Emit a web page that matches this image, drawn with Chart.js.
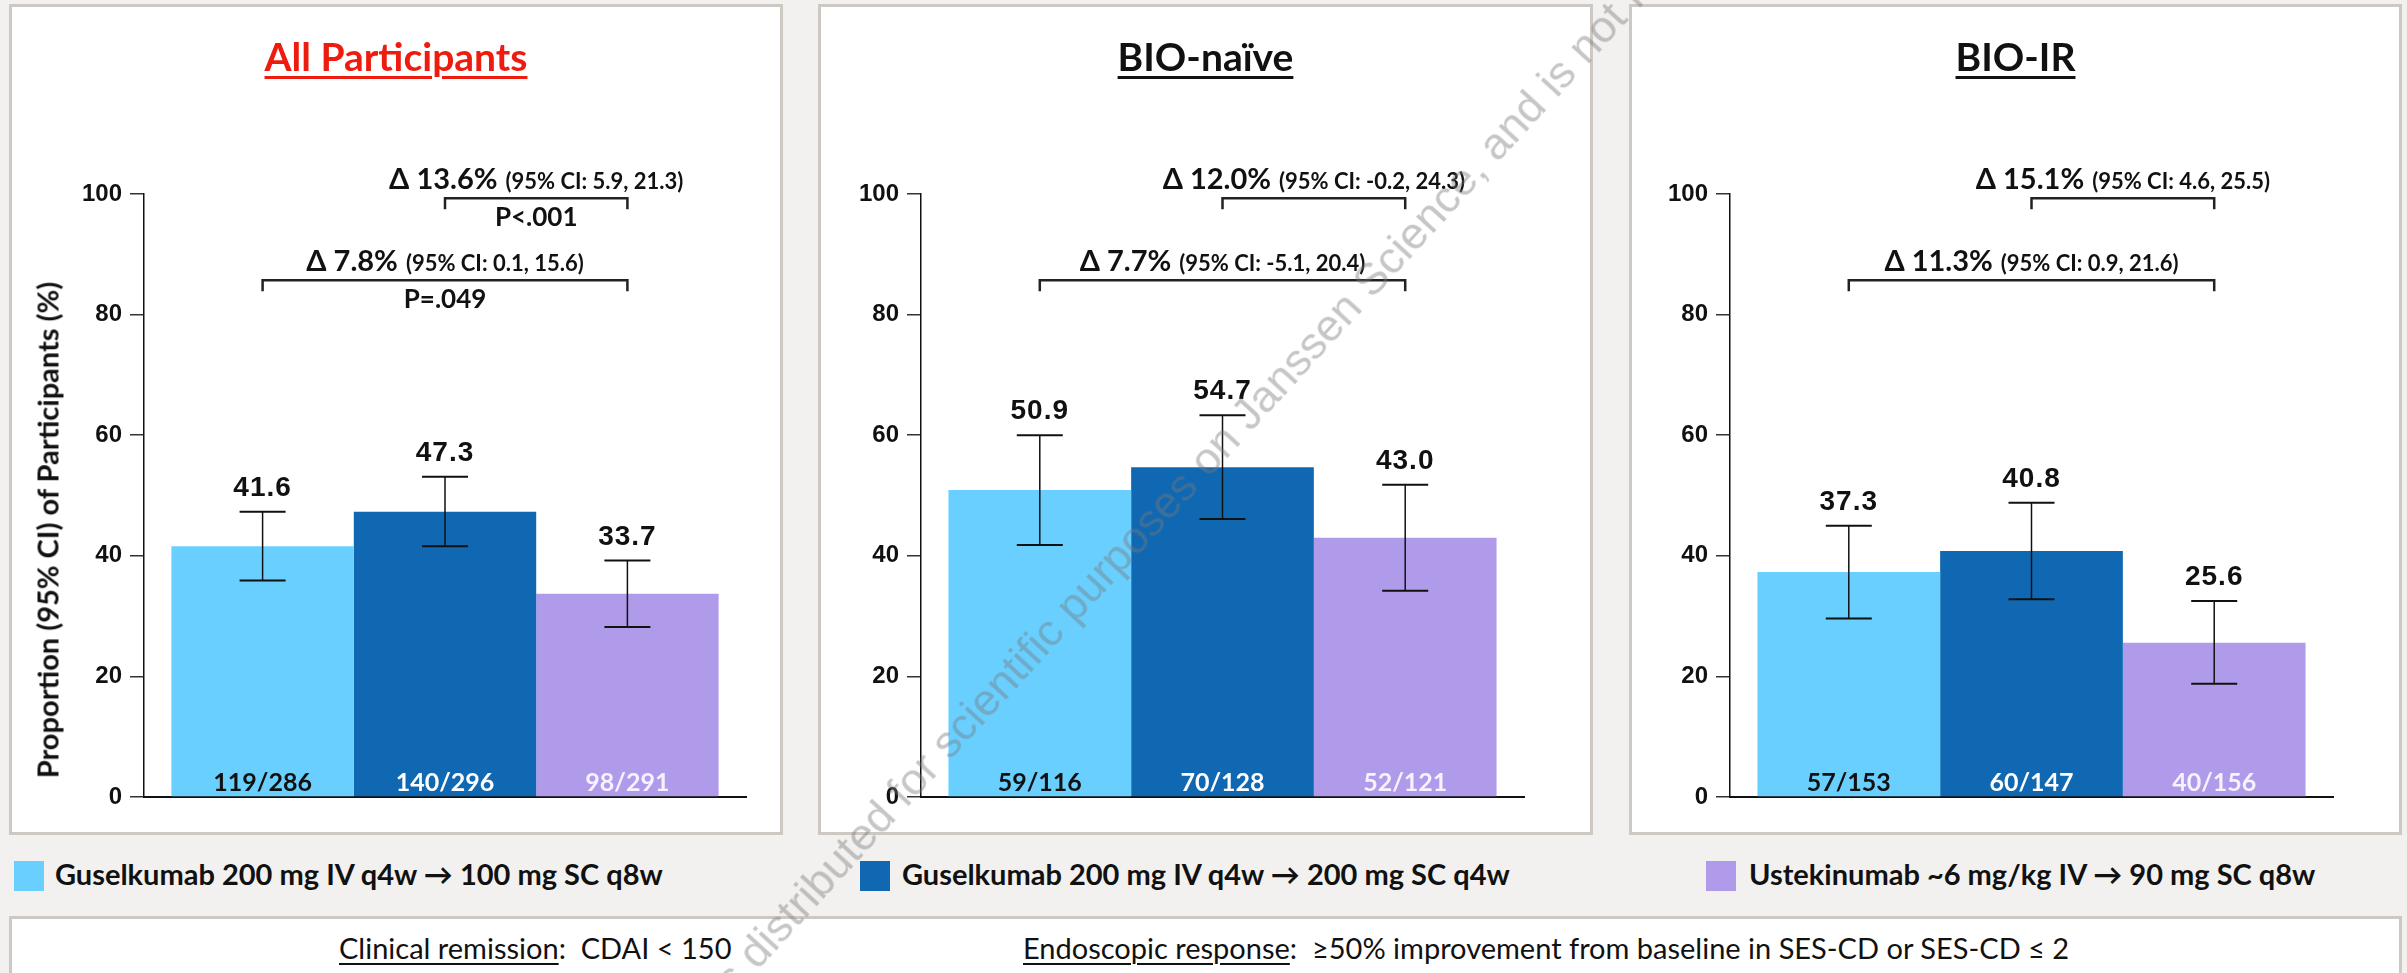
<!DOCTYPE html>
<html>
<head>
<meta charset="utf-8">
<script src="https://cdn.jsdelivr.net/npm/chart.js@4.4.1/dist/chart.umd.min.js"></script>
<style>
  html, body { margin: 0; padding: 0; }
  body { width: 2407px; height: 973px; background: #f2f1ef; position: relative; overflow: hidden; font-family: Lato, sans-serif; color: #111; }
  .panel { position: absolute; top: 4px; height: 825px; background: #fff; border: 3px solid #cdc8c2; }
  .panel canvas { position: absolute; left: 0; top: 0; }
  .title { position: absolute; left: 0; right: 0; top: 30px; text-align: center; font: bold 39px/39px Lato, sans-serif;
           text-decoration: underline; text-decoration-thickness: 3px; text-underline-offset: 5px; }
  #ytitle { position: absolute; z-index: 2; left: 47px; top: 530px; transform: translate(-50%, -50%) rotate(-90deg);
            white-space: nowrap; font: bold 29px/29px Lato, sans-serif; }
  .lg-box { position: absolute; top: 861px; width: 30px; height: 30px; }
  .lg-txt { position: absolute; top: 859px; font: bold 29px/29px Lato, sans-serif; white-space: nowrap; }
  #footer { position: absolute; left: 9px; top: 916px; width: 2387px; height: 80px; background: #fff; border: 3px solid #cdc8c2; }
  .ft { position: absolute; top: 933px; font: 29px/29px Lato, sans-serif; white-space: nowrap; }
  .ft u { text-decoration-thickness: 2px; text-underline-offset: 4px; }
  #wm { position: absolute; z-index: 3; left: 1250px; top: 432px; width: 0; height: 0; transform-origin: 0 0; transform: rotate(-47.5deg); pointer-events: none; }
  #wm span { position: absolute; top: -37px; white-space: nowrap; font: 45px/45px "Liberation Sans", sans-serif; color: rgba(120,120,120,0.42); }
</style>
</head>
<body>
<div id="ytitle">Proportion (95% CI) of Participants (%)</div>
<div id="footer"></div>
<div class="ft" style="left:339px"><u>Clinical remission</u>:&nbsp; CDAI &lt; 150</div>
<div class="ft" style="left:1023px"><u>Endoscopic response</u>:&nbsp; ≥50% improvement from baseline in SES-CD or SES-CD ≤ 2</div>
<div id="wm"><span style="right:0">This material is distributed for scientific purposes on&nbsp;</span><span style="left:0">Janssen Science, and is not for promotional use.</span></div>

<script>
// groups and treatments
const groups = ['All Participants', 'BIO-naïve', 'BIO-IR'];
const treatments = [
  'Guselkumab 200 mg IV q4w → 100 mg SC q8w',
  'Guselkumab 200 mg IV q4w → 200 mg SC q4w',
  'Ustekinumab ~6 mg/kg IV → 90 mg SC q8w'
];
const yTicks = [0, 20, 40, 60, 80, 100];

// All Participants
const allPct = [41.6, 47.3, 33.7];
const allLow = [35.9, 41.6, 28.2];
const allHigh = [47.3, 53.1, 39.2];
const allN = ['119/286', '140/296', '98/291'];
const allDelta = ['Δ 7.8%', 'Δ 13.6%'];
const allDeltaCI = ['(95% CI: 0.1, 15.6)', '(95% CI: 5.9, 21.3)'];
const allP = ['P=.049', 'P<.001'];

// BIO-naive
const naivePct = [50.9, 54.7, 43.0];
const naiveLow = [41.8, 46.1, 34.2];
const naiveHigh = [60.0, 63.3, 51.8];
const naiveN = ['59/116', '70/128', '52/121'];
const naiveDelta = ['Δ 7.7%', 'Δ 12.0%'];
const naiveDeltaCI = ['(95% CI: -5.1, 20.4)', '(95% CI: -0.2, 24.3)'];
const naiveP = ['', ''];

// BIO-IR
const irPct = [37.3, 40.8, 25.6];
const irLow = [29.6, 32.8, 18.8];
const irHigh = [45.0, 48.8, 32.5];
const irN = ['57/153', '60/147', '40/156'];
const irDelta = ['Δ 11.3%', 'Δ 15.1%'];
const irDeltaCI = ['(95% CI: 0.9, 21.6)', '(95% CI: 4.6, 25.5)'];
const irP = ['', ''];

// styling
const barColors = ['#69cfff', '#1068b2', '#b09bea'];
const countColors = ['#111111', '#ffffff', '#f6f2ff'];
const titleColors = ['#ee1c0e', '#111111', '#111111'];
const panelLeft = [9, 818, 1629];
const panelWidth = [768, 769, 767];
const chartLeft = [132, 100, 98];
const chartRight = [734, 703, 701];
const legendBoxX = [14, 860, 1706];
const legendTextX = [55, 902, 1749];
const yAxisWidth = 90;

// brackets: first = bar 1 -> bar 3 (lower), second = bar 2 -> bar 3 (upper)
const bracketPairs = [[0, 2], [1, 2]];
const bracketLevel = [85.7, 99.3];

function marksPlugin(pct, low, high, counts, delta, deltaCI, pvals) {
  return {
    id: 'marks',
    afterDatasetsDraw(chart) {
      const ctx = chart.ctx;
      const y = chart.scales.y;
      const xs = chart.data.datasets.map((d, i) => chart.getDatasetMeta(i).data[0].x);
      ctx.save();
      ctx.textAlign = 'center';
      ctx.textBaseline = 'alphabetic';
      xs.forEach((x, i) => {
        const yh = y.getPixelForValue(high[i]);
        const yl = y.getPixelForValue(low[i]);
        ctx.strokeStyle = '#111';
        ctx.lineWidth = 1.5;
        ctx.beginPath(); ctx.moveTo(x, yh); ctx.lineTo(x, yl); ctx.stroke();
        ctx.lineWidth = 2;
        ctx.beginPath();
        ctx.moveTo(x - 23, yh); ctx.lineTo(x + 23, yh);
        ctx.moveTo(x - 23, yl); ctx.lineTo(x + 23, yl);
        ctx.stroke();
        ctx.fillStyle = '#111';
        ctx.font = 'bold 28px "Liberation Sans"';
        ctx.letterSpacing = '1px';
        ctx.fillText(pct[i].toFixed(1), x, yh - 16);
        ctx.letterSpacing = '0px';
        ctx.fillStyle = countColors[i];
        ctx.font = 'bold 25px Lato';
        ctx.fillText(counts[i], x, chart.chartArea.bottom - 6);
      });

      bracketPairs.forEach((pair, k) => {
        const x1 = xs[pair[0]], x2 = xs[pair[1]];
        const by = y.getPixelForValue(bracketLevel[k]);
        ctx.strokeStyle = '#222';
        ctx.lineWidth = 2.5;
        ctx.beginPath();
        ctx.moveTo(x1, by + 11); ctx.lineTo(x1, by); ctx.lineTo(x2, by); ctx.lineTo(x2, by + 11);
        ctx.stroke();
        const cx = (x1 + x2) / 2;
        ctx.font = 'bold 29px Lato';
        const w1 = ctx.measureText(delta[k]).width;
        ctx.font = 'bold 22px Lato';
        const w2 = ctx.measureText(deltaCI[k]).width;
        const gap = 8;
        const start = cx - (w1 + gap + w2) / 2;
        ctx.fillStyle = '#111';
        ctx.textAlign = 'left';
        ctx.font = 'bold 29px Lato';
        ctx.fillText(delta[k], start, by - 9);
        ctx.font = 'bold 22px Lato';
        ctx.fillText(deltaCI[k], start + w1 + gap, by - 9);
        if (pvals[k]) {
          ctx.textAlign = 'center';
          ctx.font = 'bold 26px Lato';
          ctx.fillText(pvals[k], cx, by + 28);
        }
        ctx.textAlign = 'center';
      });
      ctx.restore();
    }
  };
}

function makePanel(idx, pct, low, high, counts, delta, deltaCI, pvals) {
  const panel = document.createElement('div');
  panel.className = 'panel';
  panel.style.left = panelLeft[idx] + 'px';
  panel.style.width = panelWidth[idx] + 'px';
  const title = document.createElement('div');
  title.className = 'title';
  title.style.color = titleColors[idx];
  title.textContent = groups[idx];
  const canvas = document.createElement('canvas');
  canvas.width = panelWidth[idx];
  canvas.height = 825;
  panel.appendChild(canvas);
  panel.appendChild(title);
  document.body.insertBefore(panel, document.getElementById('ytitle'));

  new Chart(canvas.getContext('2d'), {
    type: 'bar',
    data: {
      labels: [groups[idx]],
      datasets: treatments.map((t, i) => ({
        label: t,
        data: [pct[i]],
        backgroundColor: barColors[i],
        borderWidth: 0
      }))
    },
    options: {
      responsive: false,
      animation: false,
      events: [],
      devicePixelRatio: 1,
      categoryPercentage: 0.909,
      barPercentage: 1,
      layout: { padding: { left: chartLeft[idx] - yAxisWidth, right: panelWidth[idx] - chartRight[idx], top: 187, bottom: 35 } },
      plugins: { legend: { display: false }, tooltip: { enabled: false }, title: { display: false } },
      scales: {
        x: {
          type: 'category',
          offset: true,
          grid: { display: false, drawTicks: false },
          ticks: { display: false },
          border: { display: true, color: '#111', width: 2 },
          afterFit(s) { s.height = 0; }
        },
        y: {
          min: 0,
          max: 100,
          afterBuildTicks(s) { s.ticks = yTicks.map(v => ({ value: v })); },
          ticks: { font: { family: 'Liberation Sans', weight: 'bold', size: 24 }, color: '#111', padding: 8 },
          grid: { drawOnChartArea: false, drawTicks: true, tickLength: 14, color: '#333', lineWidth: 1.5 },
          border: { display: true, color: '#111', width: 1.5 },
          afterFit(s) { s.width = yAxisWidth; }
        }
      }
    },
    plugins: [marksPlugin(pct, low, high, counts, delta, deltaCI, pvals)]
  });
}

function buildLegend() {
  treatments.forEach((t, i) => {
    const box = document.createElement('div');
    box.className = 'lg-box';
    box.style.left = legendBoxX[i] + 'px';
    box.style.background = barColors[i];
    const txt = document.createElement('div');
    txt.className = 'lg-txt';
    txt.style.left = legendTextX[i] + 'px';
    txt.textContent = t;
    document.body.appendChild(box);
    document.body.appendChild(txt);
  });
}

Promise.all([
  document.fonts.load('bold 28px Lato'),
  document.fonts.load('28px Lato'),
  document.fonts.load('bold 28px "Liberation Sans"')
]).catch(() => {}).then(() => {
  makePanel(0, allPct, allLow, allHigh, allN, allDelta, allDeltaCI, allP);
  makePanel(1, naivePct, naiveLow, naiveHigh, naiveN, naiveDelta, naiveDeltaCI, naiveP);
  makePanel(2, irPct, irLow, irHigh, irN, irDelta, irDeltaCI, irP);
  buildLegend();
});
</script>
</body>
</html>
